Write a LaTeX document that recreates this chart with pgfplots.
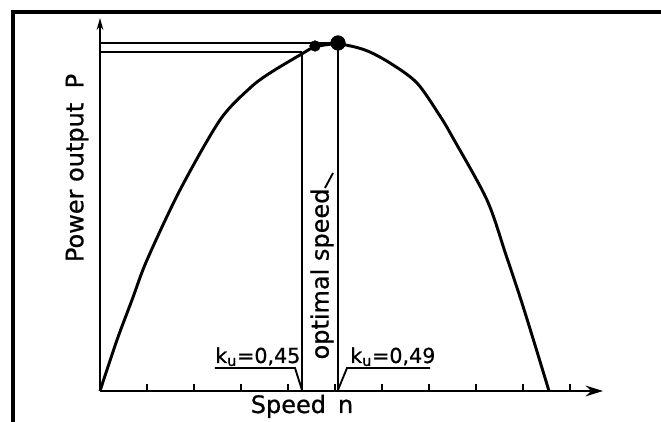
\documentclass[border=0pt]{standalone}
\usepackage{fontspec}
\setmainfont{DejaVu Sans}[FakeBold=0.7]
\usepackage{pgfplots}
\pgfplotsset{compat=1.18}
\usetikzlibrary{arrows.meta}
\begin{document}
\begin{tikzpicture}
\begin{axis}[
  scale only axis, width=377.25pt, height=279.75pt,
  xmin=0, xmax=503, ymin=0, ymax=373,
  axis lines=left,
  x axis line style={line width=1.9pt, -{Stealth[length=13pt,width=8pt]}},
  y axis line style={line width=1.9pt, -{Stealth[length=9pt,width=5pt]}},
  xtick={47,94,141,188,235,282,329,376,423,470},
  xticklabels={},
  ytick=\empty,
  tick align=inside,
  major tick length=5pt,
  every tick/.style={black, line width=1.4pt},
  clip=false,
]
\addplot[black, line width=2.2pt, smooth, tension=0.5] coordinates {
 (0,0)(17,51)(32,91)(47,131)(80,201)(120,271)(150,303)(170,318)(200,336)(215,344)(238,347)
 (265,341)(290,328)(317,308)(340,275)(353,253)(387,191)(406,136)(421,91)(435,46)(449,0)};
\addplot[only marks, mark=*, mark size=5.5pt, black] coordinates {(238,348)};
\addplot[only marks, mark=*, mark size=4pt, black] coordinates {(215,345)};
\draw[line width=2pt] (axis cs:202,0) -- (axis cs:202,339);
\draw[line width=2pt] (axis cs:238,0) -- (axis cs:238,348);
\draw[line width=1.7pt] (axis cs:0,348) -- (axis cs:238,348);
\draw[line width=1.7pt] (axis cs:0,339) -- (axis cs:202,339);
\draw[line width=1.4pt] (axis cs:115,23) -- (axis cs:195,23) -- (axis cs:202,1);
\draw[line width=1.4pt] (axis cs:238,1) -- (axis cs:247,23) -- (axis cs:330,23);
\node[anchor=base west, inner sep=0, font=\fontsize{15.5}{18}\selectfont] at (axis cs:115,28) {k\textsubscript{u}=0,45};
\node[anchor=base west, inner sep=0, font=\fontsize{15.5}{18}\selectfont] at (axis cs:250,28) {k\textsubscript{u}=0,49};
\node[rotate=90, inner sep=0, font=\fontsize{18}{21}\selectfont] at (axis cs:222,117) {optimal speed};
\draw[line width=1.4pt] (axis cs:225,203) -- (axis cs:233,218);
\node[rotate=90, inner sep=0, font=\fontsize{18}{21}\selectfont] at (axis cs:-23,223) {Power output\hspace{0.6em}P};
\node[anchor=base, inner sep=0, font=\fontsize{18}{21}\selectfont] at (axis cs:202,-22) {Speed\hspace{0.5em}n};
\draw[line width=2.4pt, line join=miter] (axis cs:565,379) -- (axis cs:-87,379) -- (axis cs:-87,-35);
\coordinate (BL) at (axis cs:-100,-31);
\coordinate (TR) at (axis cs:561,391);
\end{axis}
\pgfresetboundingbox
\useasboundingbox (BL) rectangle (TR);
\end{tikzpicture}
\end{document}
